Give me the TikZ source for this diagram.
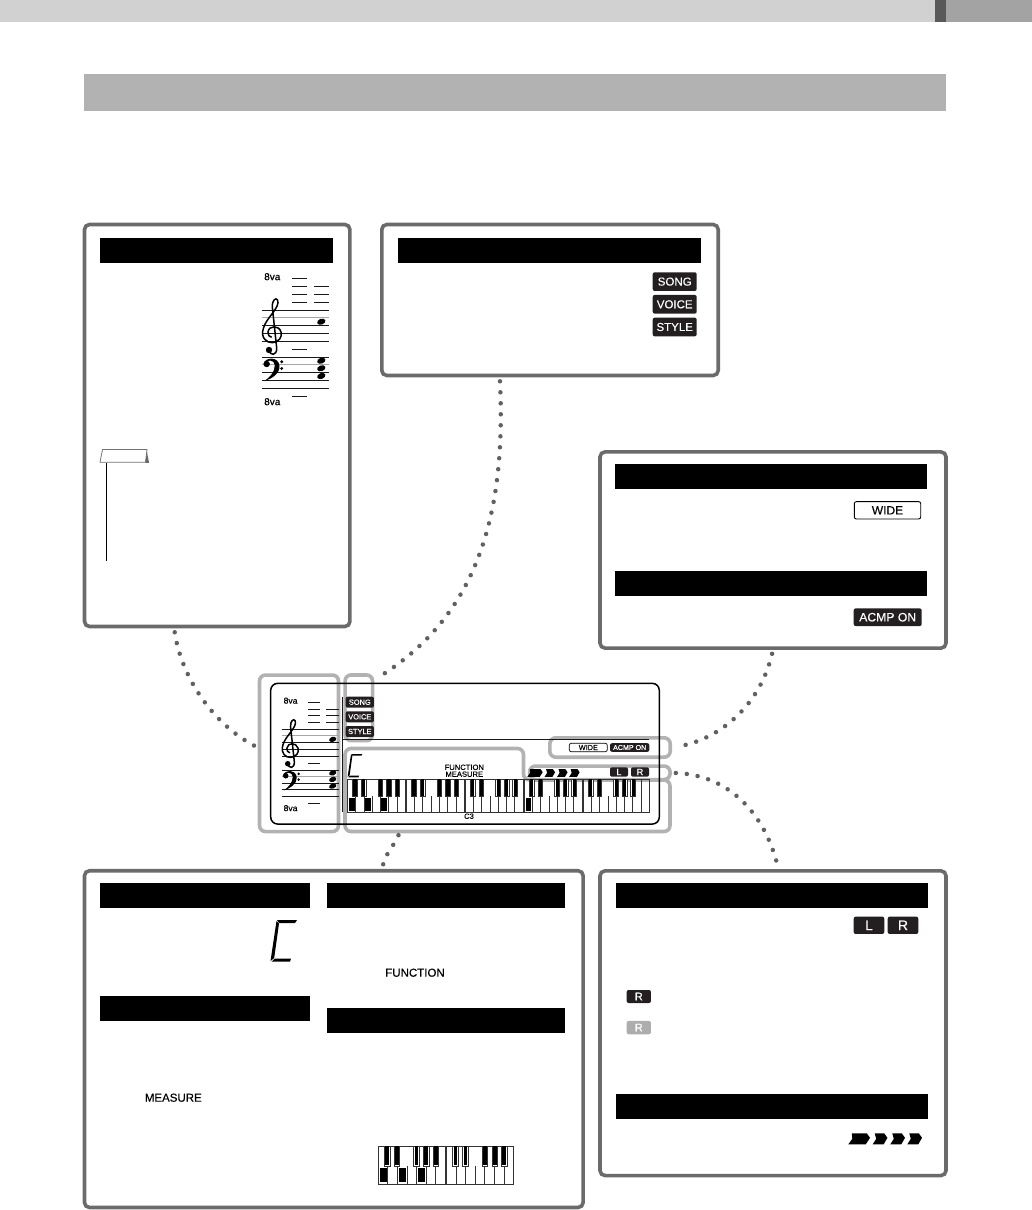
\documentclass[tikz,border=0pt]{standalone}
\usepackage{fontspec}
\setmainfont{Liberation Sans}[FakeBold=0.3]
\usepackage{xcolor}
\usepackage{tikz}
\definecolor{tagblack}{HTML}{231F20}
\tikzset{
  panel/.style={draw=black!58,line width=3.6pt,rounded corners=5pt,inner sep=0pt},
  hlbox/.style={draw=black!30,line width=3.6pt,rounded corners=6pt,inner sep=0pt},
  headbar/.style={fill=black,inner sep=0pt,minimum height=24.7pt},
  tagdark/.style={fill=tagblack,text=white,rounded corners=2pt,inner sep=0pt},
  tagopen/.style={draw=black,line width=0.9pt,text=black,rounded corners=2pt,inner sep=0pt},
  dotline/.style={draw=black!62,line width=4.5pt,line cap=round,dash pattern=on 0pt off 11pt,shorten <=4pt,shorten >=4pt},
  keyline/.style={draw=black!80,line width=0.7pt}
}
\newcommand{\fsz}[1]{\fontsize{#1}{#1}\selectfont}
\newcommand{\keyoctave}[2]{%
  \begin{scope}[shift={#1},scale=#2]
  \draw[keyline] (0,0) rectangle (58,33);
  \foreach \kx in {1,...,6} \draw[keyline] (\kx*8.29,17) -- (\kx*8.29,33);
  \foreach \kx in {5.3,13.9,30.7,39.3,47.7} {
    \draw[keyline,fill=white] (\kx,0) rectangle (\kx+4.8,17.5);
    \fill[black] (\kx+0.8,0) rectangle (\kx+4,16.8);
  }
  \end{scope}}
\newcommand{\segc}[2]{%
  \begin{scope}[shift={#1},scale=#2]
  \fill (7,0) -- (27,0) -- (25,3) -- (9,3) -- cycle;
  \fill (6.5,1) -- (9,3.5) -- (4.2,38) -- (0.5,41) -- cycle;
  \fill (1.5,41.7) -- (5,38.5) -- (21,38.5) -- (20,41.7) -- cycle;
  \end{scope}}
\newcommand{\chevrons}[2]{%
  \begin{scope}[shift={#1},scale=#2]
  \fill (3.5,0) -- (18.5,0) -- (21.7,4.5) -- (17.5,11) -- (0,11) -- (4,5.5) -- cycle;
  \foreach \cx in {24.4,42,59} {
    \fill[shift={(\cx,0)}] (2,0) -- (11.5,0) -- (14.7,4.5) -- (11,11) -- (0,11) -- (3.5,5.5) -- cycle;
  }
  \end{scope}}
\newcommand{\staffset}[3]{%
  \begin{scope}[shift={#1},scale=#2]
  \foreach \sy in {0,15.7,23.4,31.3,47.3,62.4,70.4,78.3}
    \draw[black!90,line width=0.8pt] (0,\sy) -- (67,\sy);
  \foreach \sy in {7.7,54.7}
    \draw[black!35,line width=1pt] (0,\sy) -- (67,\sy);
  \foreach \ly in {-31.7,-23.7,-15.7,-8,39,86}
    \draw[black!90,line width=0.7pt] (30,\ly) -- (45,\ly);
  \foreach \ly in {-23.7,-15.7,-8}
    \draw[black!90,line width=0.7pt] (52,\ly) -- (67,\ly);
  \node[transform shape,font=\fsz{10}] (#3up) at (10.3,-33.3) {8va};
  \node[transform shape,font=\fsz{10}] (#3down) at (10.3,91.7) {8va};
  % treble clef
  \draw[line width=1.5pt] (7,40) .. controls (8,46) and (15,46) .. (14.7,38)
    -- (10.3,-3) .. controls (10,-10) and (14,-13) .. (15.5,-10)
    .. controls (19,-3) and (4,8) .. (1.5,18)
    .. controls (-2,28) and (5,33) .. (10.5,32.7)
    .. controls (17,32) and (20.5,27) .. (19,22)
    .. controls (17,15) and (7,15) .. (6,22)
    .. controls (5.5,25) and (7.5,27) .. (9.7,27.3);
  \fill (7,40) circle (3.2);
  % bass clef
  \fill (4.7,54) circle (3.2);
  \fill (1.5,54) .. controls (3,46.5) and (17,46.5) .. (17.5,56)
    .. controls (18,64) and (9,69) .. (2.5,71)
    .. controls (8,67) and (13,62) .. (12.8,55)
    .. controls (12.4,49.5) and (5,49) .. (1.5,54) -- cycle;
  \fill (19.7,51.7) circle (1.6);
  \fill (19.7,58.4) circle (1.6);
  \foreach \ny in {11.7,50.7,58.3,66}
    \fill[rotate around={20:(59.3,\ny)}] (59.3,\ny) ellipse [x radius=4.3,y radius=2.9];
  \end{scope}}

\begin{document}
\begin{tikzpicture}[x=1pt,y=-1pt,line cap=butt]
\useasboundingbox (0,0) rectangle (1032,1210);
\fill[black!18] (0,0) rectangle (935,21.7);
\fill[black!65] (935,0) rectangle (946,21.7);
\fill[black!36] (946,0) rectangle (1032,21.7);
\fill[black!30] (84.2,74) rectangle (946,111);

% panels
\node[panel,minimum width=265.4pt,minimum height=402pt] (staffpanel) at (217.2,425.5) {};
\node[panel,minimum width=336.4pt,minimum height=151pt] (modepanel) at (550,300) {};
\node[panel,minimum width=346pt,minimum height=196.2pt] (soundpanel) at (773,550) {};
\node[panel,minimum width=498.7pt,minimum height=336.7pt] (lowerpanel) at (333.8,1039.1) {};
\node[panel,minimum width=346pt,minimum height=304.7pt] (partpanel) at (773,1023.2) {};

\node[headbar,minimum width=233pt] (staffhead) at (216.5,250.3) {};
\node[headbar,minimum width=303pt] (modehead) at (549.5,250.3) {};
\node[headbar,minimum width=312pt] (widehead) at (771,476.3) {};
\node[headbar,minimum width=312pt] (acmphead) at (771,583.3) {};
\node[headbar,minimum width=210pt] (numhead) at (205,895.3) {};
\node[headbar,minimum width=210pt] (meashead) at (205,1008.3) {};
\node[headbar,minimum width=238pt] (funchead) at (446,895.3) {};
\node[headbar,minimum width=238pt] (keyhead) at (446,1020.5) {};
\node[headbar,minimum width=312pt] (parthead) at (772,895.3) {};
\node[headbar,minimum width=312pt] (beathead) at (772,1106.3) {};

% left panel
\staffset{(262,310)}{1}{panel}
\draw[black!55,line width=0.8pt,fill=white] (102.5,449.5) -- (147,449.5) -- (145.5,462.2) -- (100,462.2) -- cycle;
\fill[black!60] (147,452) -- (149,462.8) -- (145.5,462.8) -- cycle;
\draw[black,line width=1pt] (106.3,462.7) -- (106.3,560.7);

% tags in the panels
\node[tagdark,font=\fsz{11.5},minimum width=44pt,minimum height=18.7pt] (songtag) at (674.7,281.6) {SONG};
\node[tagdark,font=\fsz{11.5},minimum width=44pt,minimum height=18.7pt] (voicetag) at (674.7,304.3) {VOICE};
\node[tagdark,font=\fsz{11.5},minimum width=44pt,minimum height=18.7pt] (styletag) at (674.7,327) {STYLE};
\node[tagopen,font=\fsz{12},minimum width=66.4pt,minimum height=17.3pt] (widetag) at (887.5,510.3) {WIDE};
\node[tagdark,font=\fsz{12.2},minimum width=68pt,minimum height=17.7pt] (acmptag) at (887.7,617.2) {ACMP ON};
\node[tagdark,font=\fsz{14},minimum width=30.6pt,minimum height=17.3pt] (ltag) at (869,925.3) {L};
\node[tagdark,font=\fsz{14},minimum width=30.6pt,minimum height=17.3pt] (rtag) at (903,925.3) {R};
\node[tagdark,font=\fsz{11},minimum width=24.3pt,minimum height=13pt] (ontag) at (638.8,996.5) {R};
\node[tagdark,fill=black!32,font=\fsz{11},minimum width=24.3pt,minimum height=13.3pt] (offtag) at (638.8,1027.6) {R};
\chevrons{(848.3,1133.3)}{1}

% lower panel
\segc{(270,920)}{1}
\node[font=\fsz{11.5}] (functext) at (415,972.7) {FUNCTION};
\node[font=\fsz{11.5}] (meastext) at (173.3,1097.7) {MEASURE};
\keyoctave{(378.3,1146)}{1.15}
\keyoctave{(446.7,1146)}{1.15}
\foreach \lx in {380,398.7,417.7}
  \fill (\lx,1167.7) rectangle +(7.3,14.6);

% highlights on the display
\node[hlbox,minimum width=79pt,minimum height=156.5pt] (hlstaff) at (299,753.3) {};
\node[hlbox,minimum width=27.5pt,minimum height=65.7pt] (hlmode) at (358.8,707.8) {};
\node[hlbox,minimum width=120.4pt,minimum height=19.4pt] (hlwide) at (610,747.5) {};
\node[hlbox,minimum width=140.5pt,minimum height=13.5pt] (hlpart) at (599.8,772.8) {};
\draw[draw=black!30,line width=3.6pt,rounded corners=6pt] (345,748.5) -- (523.5,748.5) -- (523.5,780) -- (670,780) -- (670,831.5) -- (345,831.5) -- cycle;
\coordinate (hlkeys) at (400,831.5);

% display
\node[draw=black,line width=1.5pt,rounded corners=7pt,inner sep=0pt,minimum width=388.6pt,minimum height=140.7pt] (display) at (465,753.7) {};
\draw[black!90,line width=1.3pt] (342.3,696.7) -- (342.3,811.7);
\draw[black!90,line width=0.8pt] (342.3,739) -- (649,739);
\staffset{(281.7,729.3)}{0.86}{disp}
\node[tagdark,font=\fsz{7.4},minimum width=28.3pt,minimum height=11pt] (dsong) at (359.8,702.2) {SONG};
\node[tagdark,font=\fsz{7.4},minimum width=28.3pt,minimum height=11pt] (dvoice) at (359.8,716.8) {VOICE};
\node[tagdark,font=\fsz{7.4},minimum width=28.3pt,minimum height=11pt] (dstyle) at (359.8,731.5) {STYLE};
\node[tagopen,line width=0.7pt,font=\fsz{7.3},minimum width=38pt,minimum height=8.4pt] (dwide) at (588.3,747.5) {WIDE};
\node[tagdark,font=\fsz{7.1},minimum width=39.3pt,minimum height=8.6pt] (dacmp) at (629.7,747.5) {ACMP ON};
\node[tagdark,font=\fsz{9},minimum width=18pt,minimum height=9.4pt] (dl) at (619,772) {L};
\node[tagdark,font=\fsz{9},minimum width=18pt,minimum height=9.4pt] (dr) at (640,772) {R};
\chevrons{(527.3,769)}{0.71}
\segc{(347.3,754)}{0.56}
\node[font=\fsz{7.6}] (dfunc) at (464.3,767.3) {FUNCTION};
\node[font=\fsz{7.6}] (dmeas) at (464.3,774.2) {MEASURE};
\foreach \ox in {347.3,406.2,465.1,524}
  \keyoctave{(\ox,779)}{1}
\keyoctave{(583,779)}{1}
\draw[keyline] (641,779) rectangle (649,812);
\foreach \lx in {349,365,381,525.5}
  \fill (\lx,797.7) rectangle +(5.6,13);
\node[font=\fsz{7.6}] (dc) at (469,816.2) {C3};

% dotted leads
\path[dotline] (staffpanel.-102) .. controls (182,680) and (215,725) .. (hlstaff.172);
\path[dotline] (modepanel.-123) .. controls (506,510) and (480,615) .. (hlmode.61);
\path[dotline] (soundpanel.south) .. controls (760,705) and (720,740) .. (hlwide.east);
\path[dotline] (hlpart.east) .. controls (730,775) and (765,815) .. (partpanel.88);
\path[dotline] (hlkeys) .. controls (394,846) and (384,856) .. (lowerpanel.74.5);
\end{tikzpicture}
\end{document}
